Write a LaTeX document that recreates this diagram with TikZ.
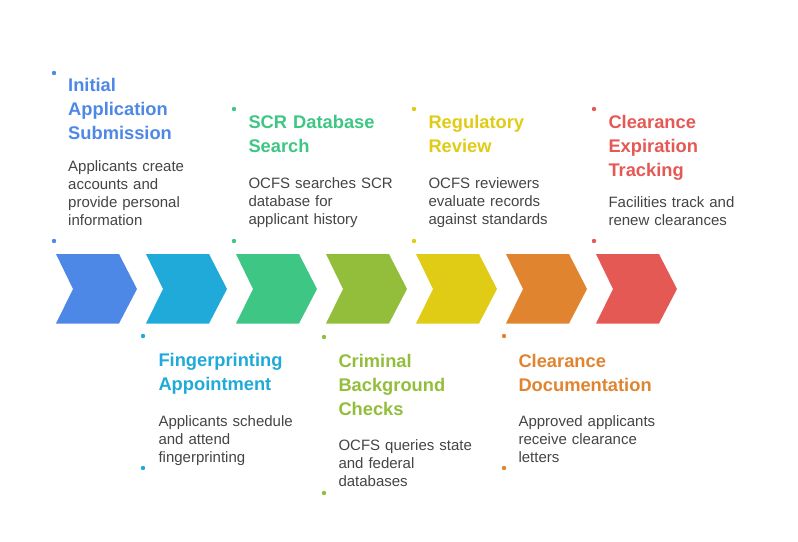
\documentclass[tikz,border=0pt]{standalone}
\usepackage{fontspec}
\setmainfont{Liberation Sans}
\definecolor{cA}{HTML}{4E88E7}
\definecolor{cB}{HTML}{1FAAD9}
\definecolor{cC}{HTML}{3EC684}
\definecolor{cD}{HTML}{93BE3B}
\definecolor{cE}{HTML}{E0CB15}
\definecolor{cF}{HTML}{E08430}
\definecolor{cG}{HTML}{E55955}
\definecolor{bodygray}{HTML}{444444}
\tikzset{
  ttl/.style={anchor=base west, inner sep=0pt, text width=200pt, align=left,
    font=\bfseries\fontsize{18.3}{24}\selectfont},
  bdy/.style={anchor=base west, inner sep=0pt, text width=200pt, align=left,
    font=\fontsize{15}{18}\selectfont, text=bodygray},
  dotm/.style={circle, inner sep=0pt, minimum size=4.4pt, draw=none},
  chev/.style={draw=none}
}
\begin{document}
\begin{tikzpicture}[x=1pt,y=-1pt]
\useasboundingbox (0,0) rectangle (798,541);
% chevrons
\foreach \i/\c in {0/cA,1/cB,2/cC,3/cD,4/cE,5/cF,6/cG}{
  \fill[chev,\c] ({56+90*\i},254) -- ++(63,0) -- ++(18,35) -- ++(-18,34.5)
     -- ++(-63,0) -- ++(17,-34.5) -- cycle;
}
% item 1
\node[dotm, fill=cA] (d1a) at (54,73) {};
\node[dotm, fill=cA] (d1b) at (54,241) {};
\node[ttl, text=cA] (t1) at (68,91.7) {Initial\\Application\\Submission};
\node[bdy] (b1) at (68,171.7) {Applicants create\\accounts and\\provide personal\\information};
% item 2
\node[dotm, fill=cB] (d2a) at (143,336) {};
\node[dotm, fill=cB] (d2b) at (143,468) {};
\node[ttl, text=cB] (t2) at (158.3,366.7) {Fingerprinting\\Appointment};
\node[bdy] (b2) at (158.3,426.7) {Applicants schedule\\and attend\\fingerprinting};
% item 3
\node[dotm, fill=cC] (d3a) at (234,109) {};
\node[dotm, fill=cC] (d3b) at (234,241) {};
\node[ttl, text=cC] (t3) at (248.3,128.3) {SCR Database\\Search};
\node[bdy] (b3) at (248.3,188.3) {OCFS searches SCR\\database for\\applicant history};
% item 4
\node[dotm, fill=cD] (d4a) at (324,337) {};
\node[dotm, fill=cD] (d4b) at (324,493) {};
\node[ttl, text=cD] (t4) at (338.3,367) {Criminal\\Background\\Checks};
\node[bdy] (b4) at (338.3,450.7) {OCFS queries state\\and federal\\databases};
% item 5
\node[dotm, fill=cE] (d5a) at (414,109) {};
\node[dotm, fill=cE] (d5b) at (414,241) {};
\node[ttl, text=cE] (t5) at (428.3,128.3) {Regulatory\\Review};
\node[bdy] (b5) at (428.3,188.3) {OCFS reviewers\\evaluate records\\against standards};
% item 6
\node[dotm, fill=cF] (d6a) at (504,336) {};
\node[dotm, fill=cF] (d6b) at (504,468) {};
\node[ttl, text=cF] (t6) at (518.3,367) {Clearance\\Documentation};
\node[bdy] (b6) at (518.3,426.7) {Approved applicants\\receive clearance\\letters};
% item 7
\node[dotm, fill=cG] (d7a) at (594,109) {};
\node[dotm, fill=cG] (d7b) at (594,241) {};
\node[ttl, text=cG] (t7) at (608.3,128.3) {Clearance\\Expiration\\Tracking};
\node[bdy] (b7) at (608.3,207.5) {Facilities track and\\renew clearances};
\end{tikzpicture}
\end{document}
